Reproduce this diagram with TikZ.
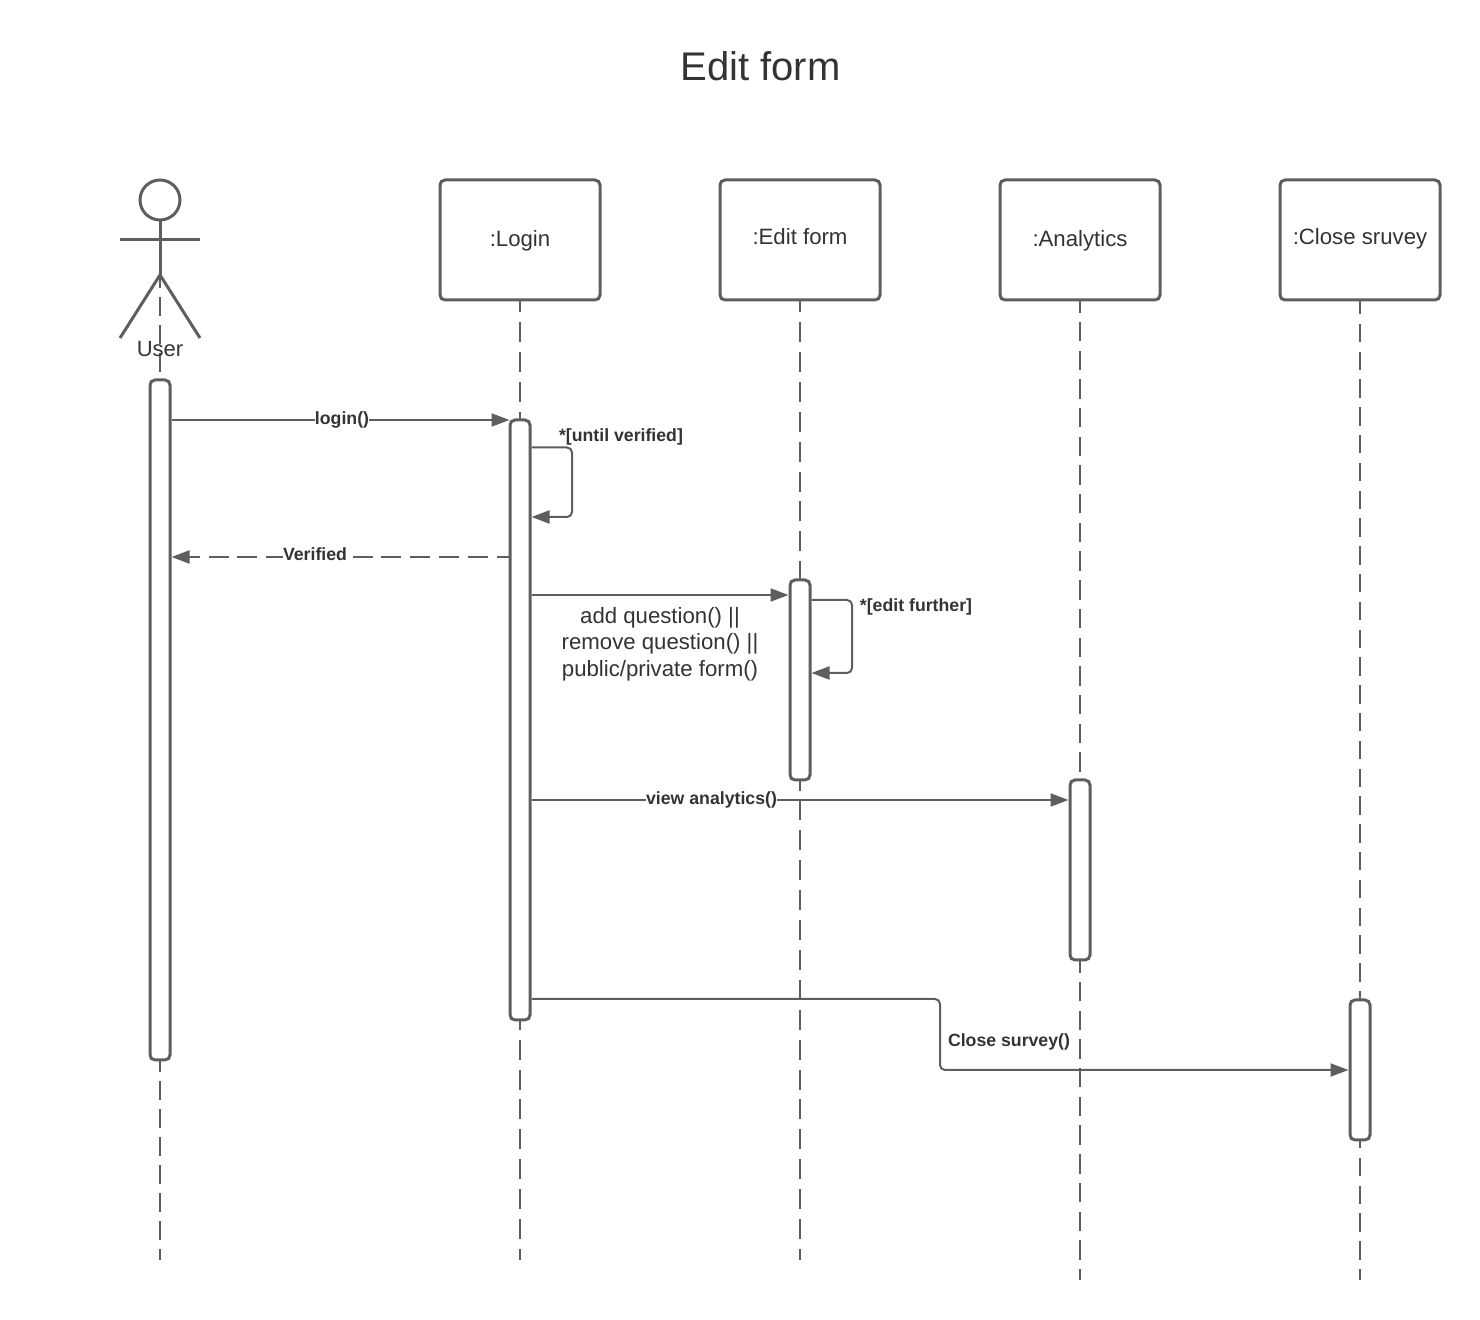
\documentclass[tikz,border=0pt]{standalone}
\usepackage{fontspec}
\setmainfont{Liberation Sans}
\usetikzlibrary{arrows.meta}
\definecolor{ln}{HTML}{5E5E5E}
\definecolor{tx}{HTML}{333333}
\tikzset{
  x=0.5pt,y=-0.5pt,
  box/.style={draw=ln,line width=1.5pt,rounded corners=2.5pt,fill=white,minimum width=80pt,minimum height=60pt,inner sep=0pt,text=tx,font=\fontsize{11.1}{13}\selectfont,text depth=0pt},
  bar/.style={draw=ln,line width=1.5pt,rounded corners=2.5pt,fill=white,minimum width=10pt,inner sep=0pt},
  life/.style={draw=ln,line width=1pt},
  msg/.style={draw=ln,line width=1pt,-{Triangle[length=9pt,width=6.5pt,color=ln]},rounded corners=2.5pt},
  lbl/.style={text=tx,font=\bfseries\fontsize{8.85}{11}\selectfont,inner sep=0pt},
  cut/.style={lbl,fill=white,inner xsep=0pt,inner ysep=0.5pt},
  txt/.style={text=tx,font=\fontsize{11.1}{13.25}\selectfont,inner sep=0pt,align=center},
  stick/.style={draw=ln,line width=1.5pt},
}
\begin{document}
\begin{tikzpicture}
\useasboundingbox (0,0) rectangle (1480,1320);
\node[text=tx,font=\fontsize{20}{24}\selectfont,inner sep=0pt] (title) at (760.5,66) {Edit form};
% lifeline ends
\coordinate (hip) at (160,275);
\coordinate (e1) at (160,1260);
\coordinate (e2) at (520,1260);
\coordinate (e3) at (800,1260);
\coordinate (e4) at (1080,1280);
\coordinate (e5) at (1360,1280);
% heads
\node[box,text height=6.6pt] (login) at (520,240) {:Login};
\node[box,text height=5pt] (edit) at (800,240) {:Edit form};
\node[box,text height=6.6pt] (analytics) at (1080,240) {:Analytics};
\node[box,text height=4.9pt] (close) at (1360,240) {:Close sruvey};
% lifelines, drawn upward so that the pattern is anchored at the free end
\draw[life,dash pattern=on 9.5pt off 4.5pt,dash phase=4pt] (e1) -- (hip);
\draw[life,dash pattern=on 10pt off 4.95pt,dash phase=4.5pt] (e2) -- (login.south);
\draw[life,dash pattern=on 10pt off 4.95pt,dash phase=4.5pt] (e3) -- (edit.south);
\draw[life,dash pattern=on 9.7pt off 4.65pt,dash phase=4.2pt] (e4) -- (analytics.south);
\draw[life,dash pattern=on 9.2pt off 4.7pt,dash phase=3.7pt] (e5) -- (close.south);
% actor
\node[draw=ln,line width=1.5pt,circle,minimum size=20pt,inner sep=0pt] (head) at (160,200) {};
\coordinate (armL) at (120,239.5);
\coordinate (armR) at (200,239.5);
\coordinate (legL) at (120,338);
\coordinate (legR) at (200,338);
\draw[stick] (head.south) -- (hip);
\draw[stick] (armL) -- (armR);
\draw[stick] (legL) -- (hip) -- (legR);
\node[text=tx,font=\fontsize{11}{13}\selectfont,inner sep=0pt] (user) at (160,349) {User};
% activation bars
\node[bar,minimum height=340pt] (ubar) at (160,720) {};
\node[bar,minimum height=300pt] (lbar) at (520,720) {};
\node[bar,minimum height=100pt] (ebar) at (800,680) {};
\node[bar,minimum height=90pt] (abar) at (1080,870) {};
\node[bar,minimum height=70pt] (cbar) at (1360,1070) {};
% y levels
\coordinate (y1) at (0,420);
\coordinate (y2a) at (0,447.5);
\coordinate (y2b) at (0,517);
\coordinate (y3) at (0,557);
\coordinate (y4) at (0,595);
\coordinate (y5a) at (0,600);
\coordinate (y5b) at (0,673);
\coordinate (y6) at (0,800);
\coordinate (y7a) at (0,999);
\coordinate (y7b) at (0,1070);
\coordinate (xs1) at (572,0);
\coordinate (xs2) at (852,0);
\coordinate (xc) at (940,0);
% messages
\draw[msg,shorten >=-0.5pt] (ubar.east |- y1) -- (lbar.west |- y1);
\node[cut] (mlogin) at (342,420) {login()};
\draw[msg] (lbar.east |- y2a) -- (xs1 |- y2a) -- (xs1 |- y2b) -- (lbar.east |- y2b);
\node[lbl] (muntil) at (621,437) {*[until verified]};
\draw[msg,dash pattern=on 10pt off 4.4pt,dash phase=4pt] (lbar.west |- y3) -- (ubar.east |- y3);
\node[cut] (mver) at (315,554) {Verified};
\draw[msg] (lbar.east |- y4) -- (ebar.west |- y4);
\node[txt] (madd) at (660,644) {add question() ||\\remove question() ||\\public/private form()};
\draw[msg] (ebar.east |- y5a) -- (xs2 |- y5a) -- (xs2 |- y5b) -- (ebar.east |- y5b);
\node[lbl] (medit) at (916,607) {*[edit further]};
\draw[msg] (lbar.east |- y6) -- (abar.west |- y6);
\node[cut] (mview) at (711.5,800) {view analytics()};
\draw[msg] (lbar.east |- y7a) -- (xc |- y7a) -- (xc |- y7b) -- (cbar.west |- y7b);
\node[lbl] (mclose) at (1009,1042) {Close survey()};
\end{tikzpicture}
\end{document}
